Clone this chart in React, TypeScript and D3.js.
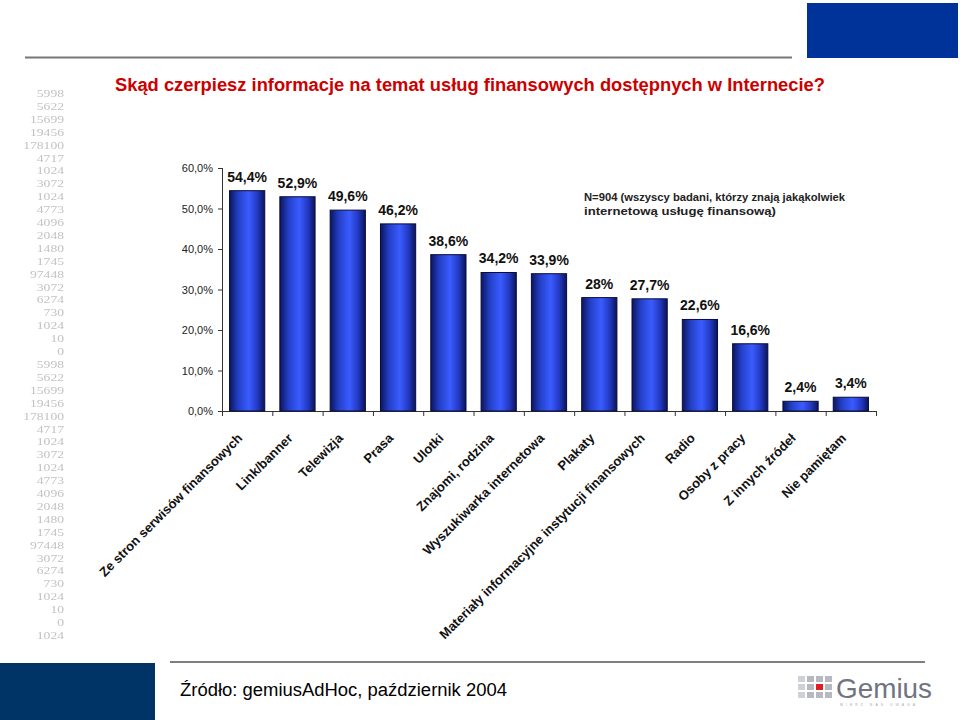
import React from 'react';
import * as d3 from 'd3';

const categories = [
  'Ze stron serwisów finansowych',
  'Link/banner',
  'Telewizja',
  'Prasa',
  'Ulotki',
  'Znajomi, rodzina',
  'Wyszukiwarka internetowa',
  'Plakaty',
  'Materiały informacyjne instytucji finansowych',
  'Radio',
  'Osoby z pracy',
  'Z innych źródeł',
  'Nie pamiętam',
];
const values = [54.4, 52.9, 49.6, 46.2, 38.6, 34.2, 33.9, 28, 27.7, 22.6, 16.6, 2.4, 3.4];
const valueLabels = ['54,4%', '52,9%', '49,6%', '46,2%', '38,6%', '34,2%', '33,9%', '28%', '27,7%', '22,6%', '16,6%', '2,4%', '3,4%'];
const yTicks = [0, 10, 20, 30, 40, 50, 60];
const sideNumbers = [
  '5998', '5622', '15699', '19456', '178100', '4717', '1024', '3072', '1024', '4773', '4096',
  '2048', '1480', '1745', '97448', '3072', '6274', '730', '1024', '10', '0',
  '5998', '5622', '15699', '19456', '178100', '4717', '1024', '3072', '1024', '4773', '4096',
  '2048', '1480', '1745', '97448', '3072', '6274', '730', '1024', '10', '0', '1024',
];

const title = 'Skąd czerpiesz informacje na temat usług finansowych dostępnych w Internecie?';
const note = ['N=904 (wszyscy badani, którzy znają jakąkolwiek', 'internetową usługę finansową)'];
const noteWidths = [261, 192];
const source = 'Źródło: gemiusAdHoc, październik 2004';

const W = 960;
const H = 720;
const font = 'Arial, "Liberation Sans", Helvetica, sans-serif';

export default function App() {
  const x = d3.scaleBand<string>().domain(categories).range([222, 876]).paddingInner(0.3).paddingOuter(0.15);
  const y = d3.scaleLinear().domain([0, 60]).range([411, 168]);
  const step = x.step();
  const sideY = d3.scaleLinear().domain([0, sideNumbers.length - 1]).range([97, 639]);

  // logo squares (4 cols x 3 rows)
  const logoCells = d3.range(12).map(i => ({ c: i % 4, r: Math.floor(i / 4) }));

  return (
    <svg width={W} height={H} style={{ position: 'absolute', left: 0, top: 0, background: '#fff' }} fontFamily={font}>
      <defs>
        <linearGradient id="barGrad" x1="0" x2="1" y1="0" y2="0">
          <stop offset="0%" stopColor="#0b1560" />
          <stop offset="25%" stopColor="#2440c8" />
          <stop offset="55%" stopColor="#3a5cff" />
          <stop offset="80%" stopColor="#2238c0" />
          <stop offset="100%" stopColor="#0a1458" />
        </linearGradient>
        <filter id="blur"><feGaussianBlur stdDeviation="0.7" /></filter>
      </defs>
      <rect width={W} height={H} fill="#fff" />

      {/* header */}
      <rect x={807} y={3} width={151} height={55} fill="#003399" />
      <line x1={25} x2={792} y1={57.5} y2={57.5} stroke="#777" strokeWidth={2} />
      <text x={115} y={91} fill="#cc0000" fontSize={18} fontWeight="bold" textLength={710} lengthAdjust="spacingAndGlyphs">
        {title}
      </text>

      {/* faint side numbers */}
      <g filter="url(#blur)">
        {sideNumbers.map((n, i) => (
          <text
            key={i}
            x={64}
            y={sideY(i)}
            textAnchor="end"
            fontSize={11}
            fill="#c2c2c2"
            fontFamily="'Liberation Serif', serif"
            textLength={n.length * 6.8}
            lengthAdjust="spacingAndGlyphs"
          >
            {n}
          </text>
        ))}
      </g>

      {/* y axis */}
      <line x1={222.5} x2={222.5} y1={y(60)} y2={y(0)} stroke="#333" />
      {yTicks.map(t => (
        <g key={t}>
          <line x1={218} x2={222.5} y1={y(t) + 0.5} y2={y(t) + 0.5} stroke="#333" />
          <text x={213} y={y(t) + 4} textAnchor="end" fontSize={11} fill="#222">
            {t.toFixed(1).replace('.', ',')}%
          </text>
        </g>
      ))}

      {/* x axis */}
      <line x1={222} x2={876} y1={y(0) + 0.5} y2={y(0) + 0.5} stroke="#333" />
      {d3.range(categories.length + 1).map(i => (
        <line key={i} x1={222.5 + i * step} x2={222.5 + i * step} y1={y(0)} y2={y(0) + 5} stroke="#333" />
      ))}

      {/* bars */}
      {categories.map((c, i) => (
        <g key={c}>
          <rect
            x={x(c)!}
            y={y(values[i])}
            width={x.bandwidth()}
            height={y(0) - y(values[i])}
            fill="url(#barGrad)"
            stroke="#0a0c3a"
            strokeWidth={1}
          />
          <text x={x(c)! + x.bandwidth() / 2} y={y(values[i]) - 9} textAnchor="middle" fontSize={14} fontWeight="bold" fill="#111">
            {valueLabels[i]}
          </text>
          <text
            transform={`translate(${x(c)! + x.bandwidth() / 2 - 4},${y(0) + 28}) rotate(-45)`}
            textAnchor="end"
            fontSize={13}
            fontWeight="bold"
            fill="#111"
          >
            {c}
          </text>
        </g>
      ))}

      {/* note */}
      {note.map((l, i) => (
        <text key={i} x={584} y={201 + i * 14} fontSize={11} fontWeight="bold" fill="#222" textLength={noteWidths[i]} lengthAdjust="spacingAndGlyphs">
          {l}
        </text>
      ))}

      {/* footer */}
      <rect x={0} y={663} width={155} height={57} fill="#003366" />
      <line x1={170} x2={925} y1={662} y2={662} stroke="#555" strokeWidth={1.5} />
      <text x={180} y={696} fontSize={18} fill="#000" textLength={327} lengthAdjust="spacingAndGlyphs">{source}</text>

      {/* logo */}
      <g>
        {logoCells.map((d, i) => (
          <rect
            key={i}
            x={798 + d.c * 9}
            y={676 + d.r * 8}
            width={7}
            height={6}
            fill={d.c === 2 && d.r === 1 ? '#e02020' : d.c === 0 ? '#d0d0d8' : '#b8b8c0'}
          />
        ))}
        <text x={836} y={698} fontSize={28} fill="#707480" textLength={96} lengthAdjust="spacingAndGlyphs">Gemius</text>
        <text x={840} y={706} fontSize={3.5} fill="#aaa" letterSpacing={3}>MIERZ NAS UWAGA</text>
      </g>
    </svg>
  );
}
